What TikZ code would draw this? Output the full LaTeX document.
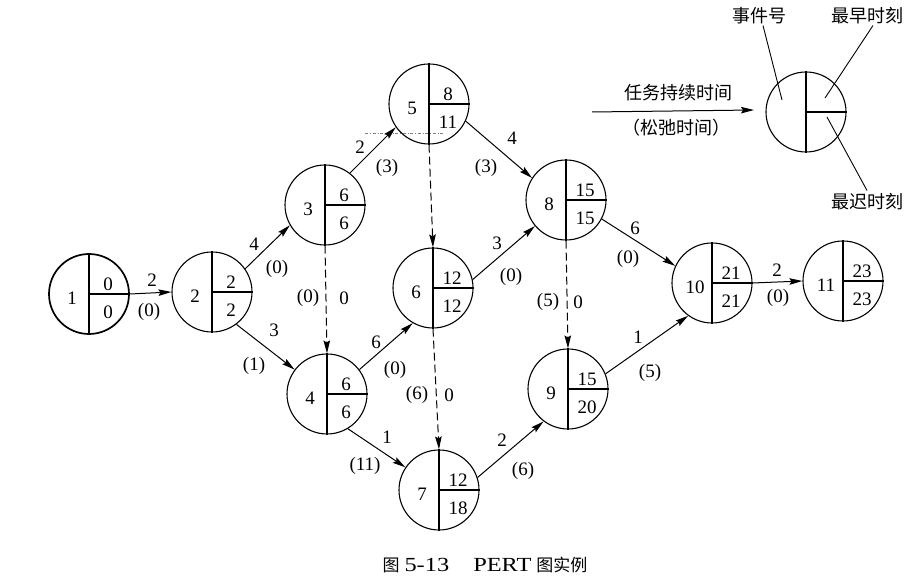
\documentclass[tikz,border=0pt]{standalone}
\usepackage{fontspec}
\setmainfont{Liberation Serif}
\newfontfamily\cjk{Noto Sans CJK SC}
\newfontfamily\capfont[FakeStretch=1.22]{Liberation Serif}
\usetikzlibrary{arrows.meta,calc}
\newcommand\evnode[7][1.1pt]{%
  \node[ev,line width=#1] (#2) at (#3) {};
  \draw[line width=1.1pt] (#2.north) -- (#2.south) (#2.center) -- (#2.east);
  \node[num] (#2i) at ($(#2.center)+(-17,4)$) {#4};
  \node[num] (#2e) at ($(#2.center)+(19,-10)$) {#5};
  \node[num] (#2l) at ($(#2.center)+(19,18)$) {#6};
}
\begin{document}
\begin{tikzpicture}[x=1pt,y=-1pt,
  ev/.style={circle,draw,minimum size=80pt,inner sep=0pt},
  num/.style={font=\fontsize{19}{20}\selectfont,inner sep=0pt},
  lab/.style={font=\fontsize{19}{20}\selectfont,inner sep=0pt},
  cjklab/.style={font=\cjk\fontsize{18}{20}\selectfont,inner sep=0pt},
  arr/.style={-{Stealth[length=13pt,width=6.5pt,inset=2pt]},line width=1pt},
  dsh/.style={arr,dash pattern=on 8pt off 4pt},
  leader/.style={line width=0.9pt}]
\useasboundingbox (0,0) rectangle (906,585);

\evnode[1.7pt]{n1}{89,294}{1}{0}{0}{}
\evnode{n2}{212,292}{2}{2}{2}{}
\evnode{n3}{325,205}{3}{6}{6}{}
\evnode{n4}{327,394}{4}{6}{6}{}
\evnode{n5}{429,104}{5}{8}{11}{}
\evnode{n6}{433,288}{6}{12}{12}{}
\evnode{n7}{439,490}{7}{12}{18}{}
\evnode{n8}{566,200}{8}{15}{15}{}
\evnode{n9}{568,389}{9}{15}{20}{}
\evnode{n10}{712,283}{10}{21}{21}{}
\evnode{n11}{843,281}{11}{23}{23}{}

% thin dash-dot line under node 5
\draw[line width=0.5pt,gray,dash dot] ($(n5.center)+(-64,29)$) -- ($(n5.center)+(14,29)$);

% solid activities
\draw[arr] (n1.east) -- (n2.west);
\draw[arr] (n2.35) -- (n3.210);
\draw[arr] (n2.-53) -- (n4.143);
\draw[arr] (n3.52) -- (n5.215);
\draw[arr] (n5.-25) -- (n8.147);
\draw[arr] (n4.37) -- (n6.240);
\draw[arr] (n6.12) -- (n8.220);
\draw[arr] (n4.-59) -- (n7.146);
\draw[arr] (n7.18) -- (n9.233);
\draw[arr] (n8.-28) -- (n10.155);
\draw[arr] (n9.22) -- (n10.234);
\draw[arr] (n10.east) -- (n11.west);
% dummy activities
\draw[dsh] (n3.south) -- (n4.north);
\draw[dsh] (n5.south) -- (n6.north);
\draw[dsh] (n6.south) -- (n7.north);
\draw[dsh] (n8.south) -- (n9.north);

% edge labels
\node[lab] (t12) at (152,280) {2};  \node[lab] (s12) at (149,312) {(0)};
\node[lab] (t23) at (254,244) {4};  \node[lab] (s23) at (277,269) {(0)};
\node[lab] (t24) at (274,330) {3};  \node[lab] (s24) at (254,366) {(1)};
\node[lab] (t35) at (360,147) {2};  \node[lab] (s35) at (387,168) {(3)};
\node[lab] (t58) at (512,138) {4};  \node[lab] (s58) at (486,168) {(3)};
\node[lab] (t46) at (376,342) {6};  \node[lab] (s46) at (395,370) {(0)};
\node[lab] (t68) at (497,243) {3};  \node[lab] (s68) at (511,277) {(0)};
\node[lab] (t47) at (387,437) {1};  \node[lab] (s47) at (365,466) {(11)};
\node[lab] (t79) at (502,440) {2};  \node[lab] (s79) at (523,471) {(6)};
\node[lab] (t810) at (635,228) {6}; \node[lab] (s810) at (628,259) {(0)};
\node[lab] (t910) at (638,337) {1}; \node[lab] (s910) at (650,373) {(5)};
\node[lab] (t1011) at (777,270) {2}; \node[lab] (s1011) at (778,298) {(0)};
\node[lab] (s34) at (308,298) {(0)};  \node[lab] (t34) at (344,298) {0};
\node[lab] (s67) at (417,395) {(6)};  \node[lab] (t67) at (449,395) {0};
\node[lab] (s89) at (548,302) {(5)};  \node[lab] (t89) at (578,302) {0};

% legend
\coordinate (lga) at (592,112);
\coordinate (lgb) at (754,110);
\draw[arr] (lga) -- (lgb);
\node[cjklab] (lgt) at (678,93) {任务持续时间};
\node[cjklab] (lgs) at (676,128) {（松弛时间）};
\node[ev,line width=1.1pt] (lg) at (806,112) {};
\draw[line width=1.1pt] (lg.north) -- (lg.south) (lg.center) -- (lg.east);
\node[cjklab] (lgev) at (759,16) {事件号};
\node[cjklab] (lgea) at (867,16) {最早时刻};
\node[cjklab] (lgla) at (867,202) {最迟时刻};
\coordinate (pev) at ($(lg.center)+(-24,-12)$);
\coordinate (pea) at ($(lg.center)+(19,-14)$);
\coordinate (pla) at ($(lg.center)+(21,5)$);
\draw[leader] ($(lgev.south)+(4,1)$) -- (pev);
\draw[leader] ($(lgea.south)+(6,1)$) -- (pea);
\draw[leader] ($(lgla.north)+(0,-3)$) -- (pla);

% caption
\node[inner sep=0pt] (cap) at (485,565) {{\cjk\fontsize{17}{20}\selectfont 图}\hspace{5pt}{\capfont\fontsize{20}{20}\selectfont 5-13\hspace{24pt}PERT}\hspace{5pt}{\cjk\fontsize{17}{20}\selectfont 图实例}};
\end{tikzpicture}
\end{document}
